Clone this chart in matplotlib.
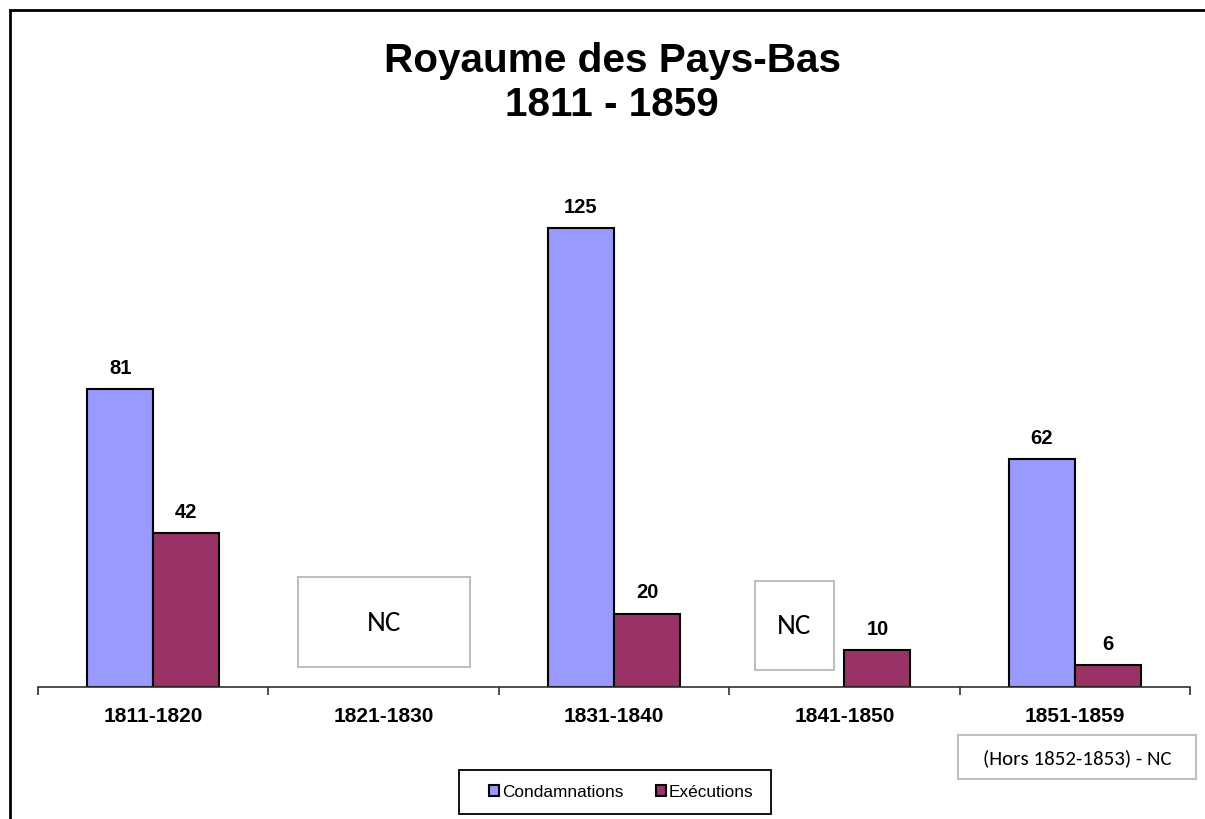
import matplotlib
matplotlib.use("Agg")
from matplotlib import pyplot as plt
from matplotlib.patches import Rectangle

plt.rcParams['font.family'] = ['Liberation Sans', 'DejaVu Sans']

periodes = ["1811-1820", "1821-1830", "1831-1840", "1841-1850", "1851-1859"]
condamnations = [81, None, 125, None, 62]
executions = [42, None, 20, 10, 6]
titre = "Royaume des Pays-Bas\n1811 - 1859"
note_nc = "NC"
note_1851 = "(Hors 1852-1853) - NC"

fig = plt.figure(figsize=(12.05, 8.2), dpi=100)
ax = fig.add_axes([38/1205, (820-688)/820, (1190-38)/1205, (688-137)/820])

w = 0.2865
x = list(range(len(periodes)))
xc = [i for i in x if condamnations[i] is not None]
yc = [condamnations[i] for i in xc]
xe = [i for i in x if executions[i] is not None]
ye = [executions[i] for i in xe]

b1 = ax.bar([i - w/2 for i in xc], yc, w, color='#9999FF', edgecolor='black', linewidth=1.5, label="Condamnations")
b2 = ax.bar([i + w/2 for i in xe], ye, w, color='#993366', edgecolor='black', linewidth=1.5, label="Exécutions")

for xi, v in zip(xc, yc):
    ax.text(xi - w/2, v + 3.3, str(v), ha='center', va='bottom', fontsize=14.5, fontweight='bold')
for xi, v in zip(xe, ye):
    ax.text(xi + w/2, v + 3.3, str(v), ha='center', va='bottom', fontsize=14.5, fontweight='bold')

ax.set_xlim(-0.5, len(periodes) - 0.5)
ax.set_ylim(0, 150)
for s in ['top', 'left', 'right']:
    ax.spines[s].set_visible(False)
ax.spines['bottom'].set_color('#303030')
ax.spines['bottom'].set_linewidth(1.2)
ax.set_yticks([])
ax.set_xticks(x)
ax.set_xticklabels(periodes, fontsize=15, fontweight='bold')
ax.tick_params(axis='x', which='major', length=0, pad=14)
ax.set_xticks([i - 0.5 for i in range(len(periodes) + 1)], minor=True)
ax.tick_params(axis='x', which='minor', length=6, width=1.2, color='#303030', direction='out')

# boites "NC"
for (x0, x1, y0, y1, txt, fs) in [(0.628, 1.375, 5.4, 29.9, note_nc, 21),
                                  (2.612, 2.955, 4.6, 28.9, note_nc, 21),
                                  (3.493, 4.526, -25.0, -13.1, note_1851, 15)]:
    ax.add_patch(Rectangle((x0, y0), x1 - x0, y1 - y0, fill=False, edgecolor='#BFBFBF',
                           linewidth=1.5, clip_on=False))
    ax.text((x0 + x1)/2, (y0 + y1)/2, txt, ha='center', va='center', fontsize=fs,
            family=['Carlito', 'Liberation Sans', 'DejaVu Sans'], clip_on=False)

fig.text(612/1205, 1 - 83/820, titre, ha='center', va='center', fontsize=29.2,
         fontweight='bold', linespacing=1.17)

leg = fig.legend(handles=[b1, b2], loc='center', bbox_to_anchor=(621/1205, 1 - 793/820),
                 ncol=2, fontsize=12.4, frameon=False,
                 handlelength=0.6, handleheight=0.6, handletextpad=0.15, columnspacing=1.9)
for h in leg.legend_handles:
    h.set_linewidth(1.5)
fig.patches.append(Rectangle((459/1205, 1 - 815/820), 312/1205, 44/820, transform=fig.transFigure,
                             fill=False, edgecolor='black', linewidth=1.3))

# cadre
fig.patches.append(Rectangle((9.5/1205, -0.1), 1.2, 1.1 - 10.5/820, transform=fig.transFigure,
                             fill=False, edgecolor='black', linewidth=2))

fig.savefig("out.png", dpi=100)
